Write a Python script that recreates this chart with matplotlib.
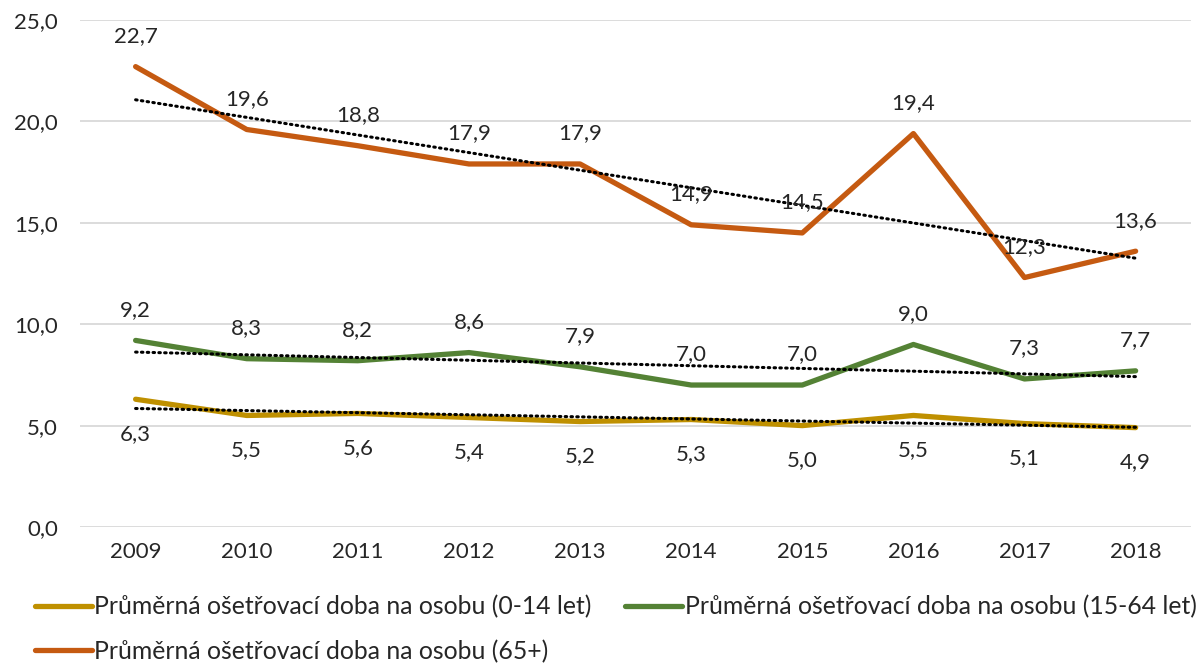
import numpy as np
import matplotlib
matplotlib.use("Agg")
import matplotlib.pyplot as plt

#data
years = [2009, 2010, 2011, 2012, 2013, 2014, 2015, 2016, 2017, 2018]
kids = [6.3, 5.5, 5.6, 5.4, 5.2, 5.3, 5.0, 5.5, 5.1, 4.9]
adults = [9.2, 8.3, 8.2, 8.6, 7.9, 7.0, 7.0, 9.0, 7.3, 7.7]
seniors = [22.7, 19.6, 18.8, 17.9, 17.9, 14.9, 14.5, 19.4, 12.3, 13.6]
labels = ["Průměrná ošetřovací doba na osobu (0-14 let)",
          "Průměrná ošetřovací doba na osobu (15-64 let)",
          "Průměrná ošetřovací doba na osobu (65+)"]
y_ticks = [0, 5, 10, 15, 20, 25]

plt.rcParams["font.family"] = ["Lato", "DejaVu Sans"]
plt.rcParams["text.color"] = "#262626"

fig = plt.figure(figsize=(12.02, 6.66), dpi=100)
ax = fig.add_axes([0.0666, 0.2087, 0.9244, 0.7613])

x = np.arange(len(years))
series = [(kids, "#BF9000", -25), (adults, "#548235", 22), (seniors, "#C55A11", 22)]
handles = []
for (vals, col, off), lab in zip(series, labels):
    h, = ax.plot(x, vals, color=col, lw=3.8, solid_capstyle="round", solid_joinstyle="round", label=lab, zorder=3)
    handles.append(h)
    #linear trendline like excel
    k, q = np.polyfit(x, vals, 1)
    ax.plot(x, k * x + q, color="black", lw=2.2, linestyle=(0, (0.5, 1.4)), dash_capstyle="round", zorder=4)
    for xi, v in zip(x, vals):
        ax.annotate(f"{v:.1f}".replace(".", ","), (xi, v), xytext=(0, off), textcoords="offset points",
                    ha="center", va="center", fontsize=16, color="#262626", zorder=5)

ax.set_xlim(-0.5, len(years) - 0.5)
ax.set_ylim(0, 25)
ax.set_yticks(y_ticks)
ax.set_yticklabels([f"{t:.1f}".replace(".", ",") for t in y_ticks])
ax.set_xticks(x)
ax.set_xticklabels([str(y) for y in years])
ax.tick_params(length=0, labelsize=16, colors="#262626")
ax.tick_params(axis="x", pad=11)
ax.tick_params(axis="y", pad=16)
ax.grid(axis="y", color="#D9D9D9", lw=1.3)
ax.set_axisbelow(True)
for s in ax.spines.values():
    s.set_visible(False)

fig.legend([handles[0], handles[2], handles[1]], [labels[0], labels[2], labels[1]],
           ncol=2, loc="upper left", bbox_to_anchor=(0.029, 0.106), frameon=False,
           fontsize=17.8, handlelength=2.3, handletextpad=0.1, columnspacing=1.37,
           labelspacing=0.85, borderaxespad=0, borderpad=0)

fig.savefig("out.png", dpi=100)
